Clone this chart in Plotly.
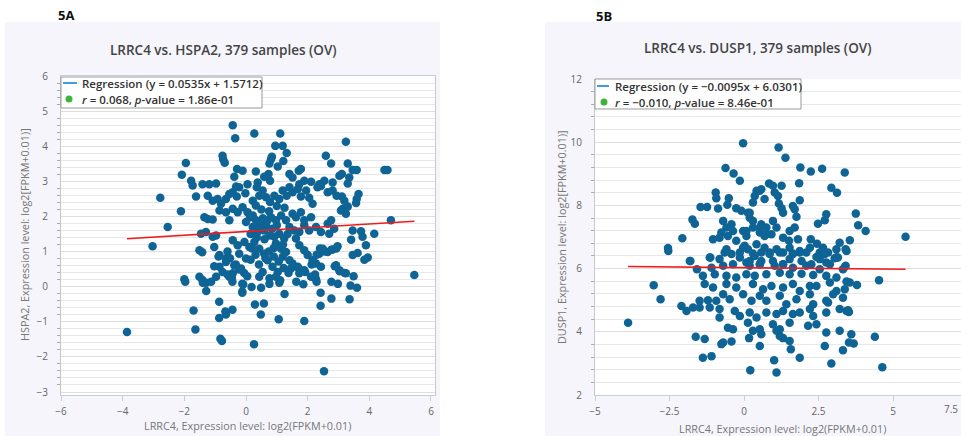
import plotly.graph_objects as go

# ---------------- data ----------------
A_pts = [
(-0.43,4.60),(-0.35,4.23),(0.27,4.36),(1.11,4.36),(0.95,4.01),(1.19,4.01),(1.32,3.81),(3.24,4.13),(-1.95,3.52),(-0.76,3.73),
(-0.74,3.63),(-0.69,3.53),(0.84,3.70),(0.81,3.63),(0.76,3.51),(1.21,3.58),(2.59,3.73),(2.76,3.51),(3.30,3.51),(4.49,3.32),
(4.59,3.32),(-2.08,3.19),(-1.78,3.02),(-1.73,2.88),(-1.41,2.92),(-1.19,2.92),(-0.97,2.94),(-0.29,3.35),(-0.38,3.13),(-0.11,3.30),
(0.32,3.28),(0.59,3.13),(0.38,2.97),(0.35,2.83),(0.73,3.21),(0.78,3.02),(1.03,3.42),(1.41,3.21),(1.51,3.11),(1.71,3.30),
(1.78,3.35),(1.89,3.02),(2.11,2.99),(2.38,2.92),(2.54,3.02),(2.81,2.97),(3.03,3.16),(3.11,3.21),(3.35,3.11),(3.46,3.32),
(3.59,3.32),(3.30,2.94),(-2.78,2.53),(-2.11,2.15),(-2.54,1.70),(-3.03,1.15),(-1.62,2.57),(-1.24,2.59),(-1.08,2.45),(-0.92,2.50),
(-0.81,2.36),(-0.65,2.50),(-0.54,2.64),(-0.43,2.69),(-0.30,2.57),(-0.22,2.83),(-0.32,2.85),(0.05,2.92),(-0.02,2.66),(0.22,2.45),
(0.32,2.31),(0.43,2.59),(0.54,2.74),(0.65,2.55),(0.78,2.41),(0.92,2.59),(1.08,2.50),(1.19,2.74),(1.32,2.59),(1.41,2.83),
(1.51,2.69),(1.68,2.78),(1.73,2.92),(1.78,2.57),(1.95,2.74),(2.05,2.53),(2.16,2.36),(2.32,2.83),(2.43,2.87),(2.65,2.69),
(2.81,2.74),(2.94,2.59),(3.11,2.57),(3.19,2.45),(3.65,2.64),(3.59,2.50),(3.57,2.38),(3.14,2.22),(3.08,2.17),(3.24,2.08),
(3.30,2.28),(4.70,1.89),(-1.35,1.98),(-1.24,1.93),(-1.08,1.91),(-1.46,1.51),(-1.30,1.56),(-1.08,1.42),(-0.97,1.46),(-1.51,1.04),
(-1.03,1.13),(-0.86,0.90),(-0.65,0.80),(-0.86,2.17),(-0.65,2.12),(-0.43,2.22),(-0.27,2.12),(-0.54,1.89),(-0.11,2.26),(0.05,2.12),
(0.13,1.98),(0.00,1.84),(0.22,2.03),(0.32,1.89),(0.41,1.79),(0.49,1.70),(0.59,1.60),(0.22,1.70),(0.38,1.56),(0.70,1.89),
(0.81,1.98),(0.97,1.89),(1.14,2.03),(1.30,1.89),(1.51,2.08),(1.62,1.98),(1.78,2.12),(1.89,1.89),(2.11,1.98),(1.41,1.70),
(1.57,1.60),(1.73,1.56),(1.89,1.75),(2.05,1.60),(2.27,1.70),(2.43,1.56),(2.65,1.79),(2.76,1.89),(2.86,1.65),(2.70,1.51),
(3.46,1.60),(3.73,1.58),(3.78,1.42),(4.16,1.51),(3.41,1.34),(3.89,1.18),(3.95,0.83),(3.46,0.90),(3.62,0.96),(2.97,1.15),
(2.81,1.06),(2.65,0.99),(2.49,1.08),(2.38,0.94),(2.27,0.66),(2.43,0.57),(2.92,0.61),(3.03,0.47),(3.24,0.38),(3.49,0.30),
(5.46,0.33),(-0.43,1.32),(-0.27,1.18),(-0.05,1.27),(0.11,1.13),(-0.22,0.94),(0.00,0.80),(-0.38,0.61),(-0.16,0.52),(-0.43,0.38),
(-0.54,0.28),(0.27,1.27),(0.43,1.08),(0.59,0.94),(0.70,0.75),(0.86,0.57),(1.03,0.42),(0.97,1.23),(1.14,1.08),(1.30,0.99),
(1.19,0.85),(1.41,0.75),(1.51,0.66),(1.62,1.37),(1.73,1.18),(1.89,1.04),(2.00,0.90),(2.16,0.75),(0.76,1.46),(0.92,1.42),
(1.08,1.51),(1.24,1.37),(-0.86,0.57),(-0.76,0.42),(-0.97,0.28),(-1.51,0.28),(-1.41,0.19),(-2.00,0.21),(0.54,0.42),(0.43,0.28),
(0.76,0.24),(0.97,0.28),(1.73,0.38),(1.89,0.47),(2.11,0.28),(2.27,0.21),(1.46,0.52),(1.68,0.57),
(-1.97,0.14),(-1.40,0.11),(-1.29,0.11),(-1.13,0.14),(-0.44,0.14),(-0.09,0.07),(0.18,-0.01),(0.49,-0.03),(0.76,0.08),(1.08,0.11),
(1.63,0.14),(1.86,0.07),(2.29,0.14),(2.77,0.14),(2.98,0.08),(3.39,0.03),(3.60,-0.03),(-1.29,-0.12),(-0.12,-0.17),(1.25,-0.21),
(2.42,-0.17),(2.77,-0.34),(3.36,-0.36),(-0.87,-0.43),(0.29,-0.51),(0.58,-0.48),(-1.70,-0.68),(-0.44,-0.66),(-0.67,-0.71),(-0.65,-0.79),
(0.48,-0.79),(2.42,-0.54),(-0.87,-0.89),(1.06,-0.93),(1.89,-0.98),(-3.86,-1.29),(-1.64,-1.22),(-0.83,-1.48),(-0.78,-1.55),(0.26,-1.64),
(2.53,-2.41),
(-1.42,0.98),(-1.03,0.58),(-0.89,0.86),(-0.60,0.35),(-0.46,0.25),(-0.60,1.00),(-0.52,0.81),(-0.65,0.70),(-0.33,0.63),(-0.22,0.49),
(-0.06,0.39),(0.04,0.30),(0.20,1.09),(0.31,0.91),(0.15,0.77),(0.42,0.63),(0.63,0.81),(0.74,1.00),(0.90,0.86),(1.06,0.72),
(1.22,0.53),(1.38,0.39),(-0.12,0.08),(-0.12,-0.14),(1.11,0.18),(1.70,0.53),(1.92,0.42),(2.13,0.63),(2.24,0.35),(2.29,0.91),
(2.40,1.09),(2.56,1.00),(2.77,1.05),(2.93,1.09),(3.04,0.44),(3.20,0.39),(3.84,0.77),(2.88,0.58),
(0.45,1.85),(0.55,1.95),(0.65,1.75),(0.85,1.65),(1.00,1.75),(0.35,1.40),(0.60,1.35),(0.90,1.10),(1.20,1.20),(0.15,1.50),
(1.35,1.50),(0.75,2.15),(1.00,2.30),(0.50,2.20),(1.25,2.25),
]
A_x = [p[0] for p in A_pts]
A_y = [p[1] for p in A_pts]

B_pts = [
(-0.03,9.97),(-0.62,9.18),(-0.35,9.01),(-0.14,8.78),(-0.95,8.41),(-0.93,8.23),(-0.51,8.23),(-1.46,7.95),(-1.24,7.95),(-0.87,7.90),
(-0.56,8.02),(-0.26,7.91),(-0.09,7.83),(-1.73,7.55),(-1.65,7.42),(-2.07,6.96),(-2.55,6.65),(-1.80,6.24),(-1.13,6.35),(-0.70,7.51),
(-0.59,7.30),(-0.76,7.14),(-0.54,7.03),(-0.37,7.19),(-0.42,7.40),(-1.04,6.93),(-0.82,6.98),(-0.59,6.61),(-0.26,6.88),(-0.03,6.66),
(0.08,7.19),(0.30,7.51),(0.53,7.30),(0.75,7.09),(0.42,8.46),(0.58,8.51),(0.30,8.09),(0.19,7.77),(-0.82,6.30),(-0.14,6.35),
(0.08,6.19),(0.36,6.40),(0.58,6.24),
(1.16,9.83),(1.39,9.51),(1.89,9.20),(2.24,9.07),(2.62,9.16),(3.38,9.04),(1.85,8.70),(2.93,8.56),(3.12,8.40),(0.84,8.69),
(0.97,8.62),(1.26,8.62),(0.53,8.46),(0.36,8.30),(0.69,8.20),(1.03,8.41),(1.14,8.30),(1.87,8.16),(1.64,7.98),(1.70,7.88),
(1.76,7.64),(1.17,8.06),(1.26,7.91),(1.31,7.77),(2.76,7.72),(2.71,7.53),(2.48,7.42),(3.75,7.74),(3.83,7.37),(4.08,7.19),
(5.42,7.01),(0.13,7.77),(0.19,7.61),(0.30,7.30),(-0.03,7.19),(0.08,7.03),(0.58,7.40),(0.75,7.30),(0.97,7.51),(1.09,7.30),
(0.92,7.09),(0.69,7.03),(0.53,7.14),(1.53,7.19),(1.70,7.30),(1.81,6.93),(1.51,6.88),(1.31,6.98),(2.24,6.93),(2.45,6.79),
(2.65,6.66),(2.54,6.51),(2.82,6.51),(3.21,6.82),(3.55,6.90),(3.41,6.61),(3.10,6.61),(3.15,6.35),(3.04,6.33),(3.38,6.05),
(0.02,6.72),(0.13,6.61),(0.42,6.77),(0.69,6.66),(0.86,6.51),(1.09,6.61),(1.31,6.51),(1.53,6.66),(1.64,6.46),(1.87,6.56),
(2.09,6.51),(2.21,6.66),(0.19,6.24),(0.53,6.14),(0.97,6.24),(1.31,6.14),(1.53,6.30),(1.93,6.24),(2.26,6.14),(2.54,6.30),
(2.76,6.19),(3.10,6.35),
(-2.54,6.56),(-1.82,6.24),(-1.15,6.35),(-0.65,6.51),(-0.42,6.46),(-0.14,6.51),(0.30,6.48),(0.58,6.51),(0.86,6.46),(1.20,6.51),
(1.64,6.48),(1.87,6.51),(2.43,6.37),(2.71,6.46),(3.10,6.35),(3.44,6.56),
(-1.58,5.98),(-1.09,6.03),(-0.70,6.09),(-0.37,6.14),(0.19,6.09),(0.53,6.14),(1.03,6.09),(1.31,6.14),(1.64,6.03),(2.09,6.09),
(2.54,5.98),(2.88,6.14),(3.32,5.98),(3.41,6.09),
(-1.38,5.77),(-0.98,5.82),(-0.59,5.77),(-0.26,5.72),(0.08,5.82),(0.36,5.77),(0.75,5.82),(1.20,5.87),(1.53,5.82),(1.93,5.84),
(2.32,5.80),(2.76,5.77),(3.10,5.72),
(-3.03,5.47),(-2.80,5.03),(-3.89,4.29),(4.53,5.63),(3.79,5.48),(3.55,5.56),(3.44,5.59),
(-1.32,5.51),(-1.04,5.40),(-0.59,5.51),(-0.26,5.40),(0.30,5.51),(0.64,5.35),(0.92,5.45),(1.31,5.40),(1.64,5.51),(1.87,5.29),
(2.21,5.45),(2.43,5.45),(2.88,5.56),(3.10,5.29),(3.38,5.35),
(-1.49,4.98),(-1.21,5.00),(-0.93,4.98),(-2.10,4.82),(-1.93,4.66),(-1.71,4.77),
(-0.70,5.19),(-0.48,5.03),(-0.03,5.19),(0.25,4.98),(0.53,5.14),(0.75,4.98),(1.20,5.14),(1.42,4.87),(1.76,5.03),(2.21,5.19),
(2.32,4.87),(2.76,4.98),(2.99,5.19),(3.32,5.08),(3.44,4.66),(3.49,4.68),
(-1.49,4.77),(-1.15,4.77),(-0.82,4.72),(-0.31,4.66),(-0.14,4.50),(0.19,4.61),(0.42,4.45),(0.75,4.61),(1.09,4.56),(1.31,4.66),
(1.64,4.56),(1.87,4.61),(2.21,4.72),(2.32,4.50),(2.76,4.61),(2.82,4.93),(3.21,4.72),(3.52,4.63),
(-0.82,4.45),(-0.54,4.13),(-0.37,4.08),(0.13,4.29),(0.30,4.03),(0.53,4.08),(0.58,3.92),(0.97,4.24),(1.09,4.03),(1.20,4.08),
(1.53,4.29),(2.15,4.19),(2.43,4.24),(2.76,3.98),(3.21,4.03),(3.60,3.92),(3.68,3.63),(3.52,3.66),(4.39,3.84),
(-1.62,3.84),(-1.32,3.77),(-0.76,3.61),(-0.70,3.66),(-0.42,3.69),(0.17,3.80),(0.53,3.55),(1.20,3.87),(1.31,3.80),(1.53,3.71),
(1.57,3.45),(1.87,3.18),(2.71,3.55),(2.93,3.00),(3.32,3.42),(-1.38,3.18),(-1.09,3.23),(0.21,2.78),(1.01,3.10),(1.09,2.71),
(4.64,2.88),
]
B_x = [p[0] for p in B_pts]
B_y = [p[1] for p in B_pts]

A_slope, A_intercept = 0.0535, 1.5712
B_slope, B_intercept = -0.0095, 6.0301

A_title = "LRRC4 vs. HSPA2, 379 samples (OV)"
B_title = "LRRC4 vs. DUSP1, 379 samples (OV)"
A_xlabel = "LRRC4, Expression level: log2(FPKM+0.01)"
A_ylabel = "HSPA2, Expression level: log2[FPKM+0.01)]"
B_xlabel = "LRRC4, Expression level: log2(FPKM+0.01)"
B_ylabel = "DUSP1, Expression level: log2[FPKM+0.01)]"
A_leg_line = "Regression (y = 0.0535x + 1.5712)"
A_leg_dot = "<i>r</i> = 0.068, <i>p</i>-value = 1.86e-01"
B_leg_line = "Regression (y = \u22120.0095x + 6.0301)"
B_leg_dot = "<i>r</i> = \u22120.010, <i>p</i>-value = 8.46e-01"

# ---------------- figure ----------------
W, H = 961, 436
def px(v): return v / W
def py(v): return 1 - v / H

FONT = "Open Sans"
DOT = "#0f6496"
RED = "#f21b1b"
LEG_BLUE = "#3b9ee0"
LEG_GREEN = "#3fb43a"

fig = go.Figure()

def add_panel(xs, ys, slope, intercept, xa, ya):
    fig.add_trace(go.Scatter(x=xs, y=ys, mode="markers", xaxis=xa, yaxis=ya,
                             marker=dict(color=DOT, size=8.5, line=dict(width=0)),
                             showlegend=False, hoverinfo="x+y"))
    x0, x1 = min(xs), max(xs)
    fig.add_trace(go.Scatter(x=[x0, x1], y=[slope * x0 + intercept, slope * x1 + intercept],
                             mode="lines", xaxis=xa, yaxis=ya,
                             line=dict(color=RED, width=1.6), showlegend=False))

add_panel(A_x, A_y, A_slope, A_intercept, "x", "y")
add_panel(B_x, B_y, B_slope, B_intercept, "x2", "y2")

tickfont = dict(family=FONT, size=10, color="#666666")
common_y = dict(showgrid=True, gridcolor="#dedede", gridwidth=1, zeroline=False,
                showline=True, linecolor="#c8c8c8", linewidth=1, ticks="",
                tickfont=tickfont, ticklabelstandoff=10)
common_x = dict(showgrid=False, zeroline=False, showline=True, linecolor="#c0d0e0",
                linewidth=1, ticks="outside", ticklen=5, tickcolor="#c0d0e0",
                tickfont=tickfont, ticklabelstandoff=2)

A_dom_x = [px(61), px(435)]
A_dom_y = [py(395), py(76)]
B_dom_x = [px(595), 1.0]
B_dom_y = [py(395), py(79)]

fig.update_layout(
    width=W, height=H, margin=dict(l=0, r=0, t=0, b=0, pad=0, autoexpand=False),
    paper_bgcolor="white", plot_bgcolor="white", showlegend=False,
    xaxis=dict(common_x, domain=A_dom_x, range=[-6, 6.13], tickvals=[-6, -4, -2, 0, 2, 4, 6],
               anchor="y", mirror=True),
    yaxis=dict(common_y, domain=A_dom_y, range=[-3.085, 6.0], dtick=1, anchor="x", mirror=True,
               minor=dict(dtick=0.2, showgrid=True, gridcolor="#e8e8e8", ticks="outside",
                          ticklen=3, tickcolor="#aaaaaa")),
    xaxis2=dict(common_x, domain=B_dom_x, range=[-5, 7.28], tickvals=[-5, -2.5, 0, 2.5, 5],
                ticktext=["\u22125", "\u22122.5", "0", "2.5", "5"], anchor="y2"),
    yaxis2=dict(common_y, domain=B_dom_y, range=[2, 12], dtick=2, anchor="x2",
                minor=dict(dtick=0.4, showgrid=True, gridcolor="#e8e8e8", ticks="outside",
                           ticklen=3, tickcolor="#aaaaaa")),
)

# container backgrounds + hand-built legends
shapes = [
    dict(type="rect", x0=px(5), x1=px(440), y0=0, y1=py(22),
         fillcolor="#f5f5fb", line=dict(width=0), layer="below"),
    dict(type="rect", x0=px(545), x1=1.0, y0=0, y1=py(22),
         fillcolor="#f5f5fb", line=dict(width=0), layer="below"),
    dict(type="rect", x0=A_dom_x[0], x1=A_dom_x[1], y0=A_dom_y[0], y1=A_dom_y[1],
         fillcolor="white", line=dict(width=0), layer="below"),
    dict(type="rect", x0=B_dom_x[0], x1=B_dom_x[1], y0=B_dom_y[0], y1=B_dom_y[1],
         fillcolor="white", line=dict(width=0), layer="below"),
]

ann = []
def add_legend(bx0, by0, bx1, by1, line_y, dot_y, lx0, lx1, dot_x, tx, line_text, dot_text):
    shapes.append(dict(type="rect", x0=px(bx0), x1=px(bx1), y0=py(by1), y1=py(by0),
                       fillcolor="white", line=dict(color="#999999", width=1), layer="above"))
    shapes.append(dict(type="line", x0=px(lx0), x1=px(lx1), y0=py(line_y), y1=py(line_y),
                       line=dict(color=LEG_BLUE, width=2), layer="above"))
    shapes.append(dict(type="circle", x0=px(dot_x - 3.5), x1=px(dot_x + 3.5),
                       y0=py(dot_y + 3.5), y1=py(dot_y - 3.5),
                       fillcolor=LEG_GREEN, line=dict(width=0), layer="above"))
    lf = dict(family=FONT, size=11.5, color="#333333", weight=600)
    ann.append(dict(text=line_text, x=px(tx), y=py(line_y), xanchor="left", yanchor="middle", font=lf))
    ann.append(dict(text=dot_text, x=px(tx), y=py(dot_y), xanchor="left", yanchor="middle", font=lf))

add_legend(61, 77, 262, 108, 83, 99, 63, 77, 69, 80, A_leg_line, A_leg_dot)
add_legend(595, 79, 801, 109, 86, 102, 597, 609, 604, 613, B_leg_line, B_leg_dot)

for s in shapes:
    s.update(xref="paper", yref="paper")
fig.update_layout(shapes=shapes)

ann.append(dict(text="5A", x=px(56), y=py(15), xanchor="left", yanchor="middle",
                font=dict(family=FONT, size=13, color="#111111", weight="bold")))
ann.append(dict(text="5B", x=px(594), y=py(16), xanchor="left", yanchor="middle",
                font=dict(family=FONT, size=13, color="#111111", weight="bold")))
ann.append(dict(text=A_title, x=px(223), y=py(50), xanchor="center", yanchor="middle",
                font=dict(family=FONT, size=13.5, color="#444444", weight=600)))
ann.append(dict(text=B_title, x=px(757), y=py(48), xanchor="center", yanchor="middle",
                font=dict(family=FONT, size=13.5, color="#444444", weight=600)))
ann.append(dict(text=A_xlabel, x=px(247), y=py(425), xanchor="center", yanchor="middle",
                font=dict(family=FONT, size=10.8, color="#777777")))
ann.append(dict(text=B_xlabel, x=px(782), y=py(428), xanchor="center", yanchor="middle",
                font=dict(family=FONT, size=10.8, color="#777777")))
ann.append(dict(text=A_ylabel, x=px(24), y=py(235), xanchor="center", yanchor="middle", textangle=-90,
                font=dict(family=FONT, size=10.8, color="#777777")))
ann.append(dict(text=B_ylabel, x=px(561), y=py(237), xanchor="center", yanchor="middle", textangle=-90,
                font=dict(family=FONT, size=10.8, color="#777777")))
ann.append(dict(text="7.5", x=px(960), y=py(409), xanchor="right", yanchor="middle",
                font=tickfont))
for a in ann:
    a.update(xref="paper", yref="paper", showarrow=False)
fig.update_layout(annotations=ann)

fig.write_html("out.html", config={"displayModeBar": False},
               post_script="document.body.style.margin='0';document.body.style.overflow='hidden';")
